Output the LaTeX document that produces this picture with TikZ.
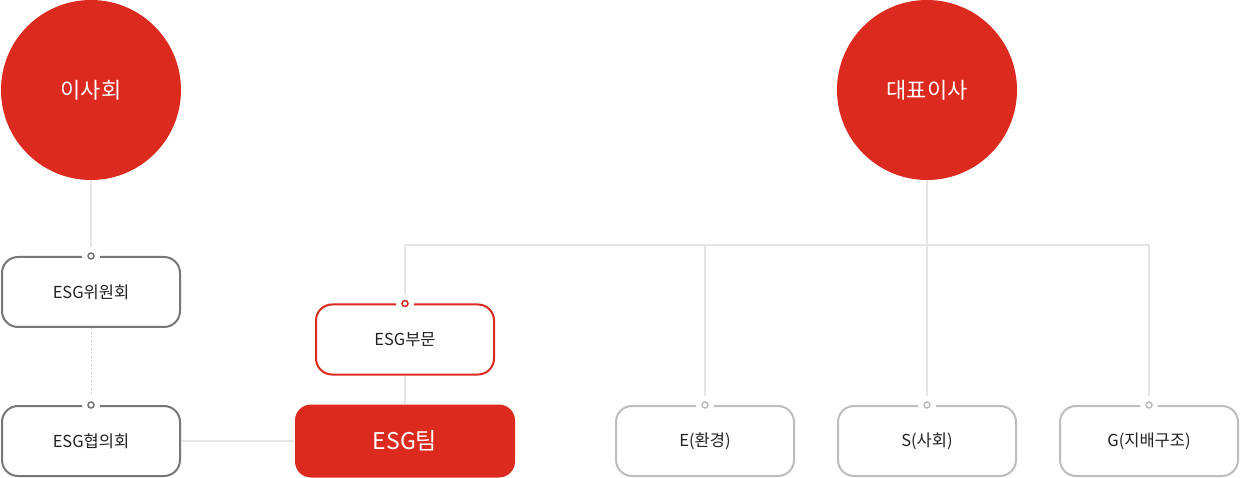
\documentclass[tikz,border=0pt]{standalone}
\usepackage{fontspec}
\setmainfont{Noto Sans CJK KR}
\usetikzlibrary{positioning}
\definecolor{esgred}{HTML}{DC2A1F}
\definecolor{boxgray}{HTML}{777777}
\definecolor{softgray}{HTML}{BDBDBD}
\definecolor{linkgray}{HTML}{E6E6E6}
\definecolor{textgray}{HTML}{222222}
\begin{document}
\begin{tikzpicture}[x=1pt, y=-1pt, node distance=77pt]
	% 노드 스타일
	\tikzstyle{board} = [circle, fill=esgred, text=white, minimum size=180pt, inner sep=0pt, font=\fontsize{22}{26}\selectfont]
	\tikzstyle{unit} = [rectangle, draw=boxgray, line width=2pt, rounded corners=16pt, fill=white, minimum width=178pt, minimum height=70pt, text=textgray, font=\fontsize{16.5}{20}\selectfont]
	\tikzstyle{redunit} = [unit, draw=esgred]
	\tikzstyle{softunit} = [unit, draw=softgray]
	\tikzstyle{team} = [unit, draw=none, fill=esgred, text=white, minimum width=220pt, minimum height=73pt, font=\fontsize{23}{27}\selectfont]
	\tikzstyle{link} = [draw=linkgray, line width=2pt]
	
	\useasboundingbox (0,0) rectangle (1240,478);
	
	% 노드
	\node [board] (isahoe) at (91,90) {이사회};
	\node [board] (ceo) at (927,90) {대표이사};
	\node [unit] (wiwon) at (91,292) {ESG위원회};
	\node [unit, below=77pt of wiwon] (hyeob) {ESG협의회};
	\node [team, right=113pt of hyeob] (team) {ESG팀};
	\node [redunit, above=28pt of team] (bumun) {ESG부문};
	\node [softunit] (env) at (705,441) {E(환경)};
	\node [softunit, right=42pt of env] (soc) {S(사회)};
	\node [softunit, right=42pt of soc] (gov) {G(지배구조)};
	\coordinate (fork) at (927,245);
	
	% 연결선
	\draw [link] (isahoe) -- (wiwon);
	\draw [link, line width=1pt, draw=linkgray!80!gray, dash pattern=on 2pt off 2pt] (wiwon) -- (hyeob);
	\draw [link] (hyeob) -- (team);
	\draw [link] (bumun) -- (team);
	\draw [link] (ceo) -- (soc);
	\draw [link] (bumun.north) |- (fork) -| (gov.north);
	\draw [link] (env.north) |- (fork);
	
	% 연결점
	\foreach \n/\c in {wiwon/boxgray, hyeob/boxgray, bumun/esgred, env/softgray, soc/softgray, gov/softgray}
	{
		\fill [white] (\n.north) circle (9pt);
		\draw [\c, line width=1.5pt] (\n.north) circle (3pt);
	}
\end{tikzpicture}
\end{document}
